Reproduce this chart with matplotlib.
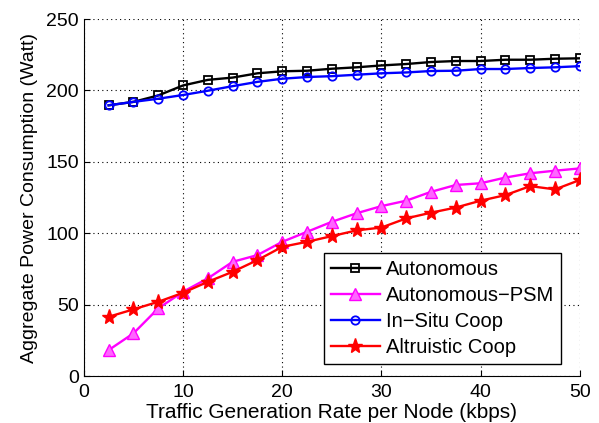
import numpy as np
import matplotlib
matplotlib.use("Agg")
import matplotlib.pyplot as plt

plt.rcParams['font.family'] = ['Liberation Sans', 'DejaVu Sans']

rate = [2.5, 5, 7.5, 10, 12.5, 15, 17.5, 20, 22.5, 25,
        27.5, 30, 32.5, 35, 37.5, 40, 42.5, 45, 47.5, 50]

autonomous = [189.6, 192, 196.5, 203.5, 207.4, 209, 212, 213.4, 213.8, 215.2,
              216.2, 217.5, 218.5, 219.9, 220.6, 220.6, 221.5, 221.5, 222.2, 222.5]
autonomous_psm = [18.2, 29.9, 47.4, 59, 68.4, 80, 84.7, 94, 101, 108,
                  114, 119, 122.8, 129, 133.8, 135, 139, 142, 143.8, 145.4]
insitu = [189.6, 192, 194.2, 196.8, 199.8, 203, 206, 208.2, 209.4, 210,
          211, 212, 212.6, 213.6, 213.8, 215, 215, 215.7, 216.2, 217]
altruistic = [41.5, 46.7, 52, 58.3, 66, 73, 81.2, 90.5, 94, 98,
              102, 104, 110.4, 114.4, 118, 122.8, 126.7, 133, 130.7, 137.3]

fig = plt.figure(figsize=(5.99, 4.23), dpi=100)
ax = fig.add_axes([0.140, 0.111, 0.828, 0.844])

ax.plot(rate, autonomous, color='black', marker='s', ms=6, mfc='none', mew=1.3, lw=1.7, label='Autonomous')
ax.plot(rate, autonomous_psm, color='#ff00ff', marker='^', ms=8, mfc='#ff66ff', mew=1.0, lw=1.7, label='Autonomous\u2212PSM')
ax.plot(rate, insitu, color='blue', marker='o', ms=6, mfc='none', mew=1.3, lw=1.7, label='In\u2212Situ Coop')
ax.plot(rate, altruistic, color='red', marker='*', ms=11, mfc='red', mew=1.0, lw=1.7, label='Altruistic Coop')

ax.set_xlim(0, 50)
ax.set_ylim(0, 250)
ax.set_xticks([0, 10, 20, 30, 40, 50])
ax.set_yticks([0, 50, 100, 150, 200, 250])
ax.grid(True, color='black', linestyle=(0, (1, 3)), linewidth=0.8)
ax.spines['top'].set_visible(False)
ax.spines['right'].set_visible(False)
ax.tick_params(direction='in', labelsize=14, length=4)
ax.tick_params(axis='x', pad=6)
ax.set_xlabel('Traffic Generation Rate per Node (kbps)', fontsize=15, labelpad=1)
ax.set_ylabel('Aggregate Power Consumption (Watt)', fontsize=14, labelpad=6)

leg = ax.legend(loc='lower right', bbox_to_anchor=(0.962, 0.034), borderaxespad=0,
                fontsize=14.5, fancybox=False, edgecolor='black', framealpha=1,
                handlelength=2.4, borderpad=0.35, labelspacing=0.35, handletextpad=0.3)
leg.get_frame().set_linewidth(1.0)

fig.savefig('out.png', dpi=100)
